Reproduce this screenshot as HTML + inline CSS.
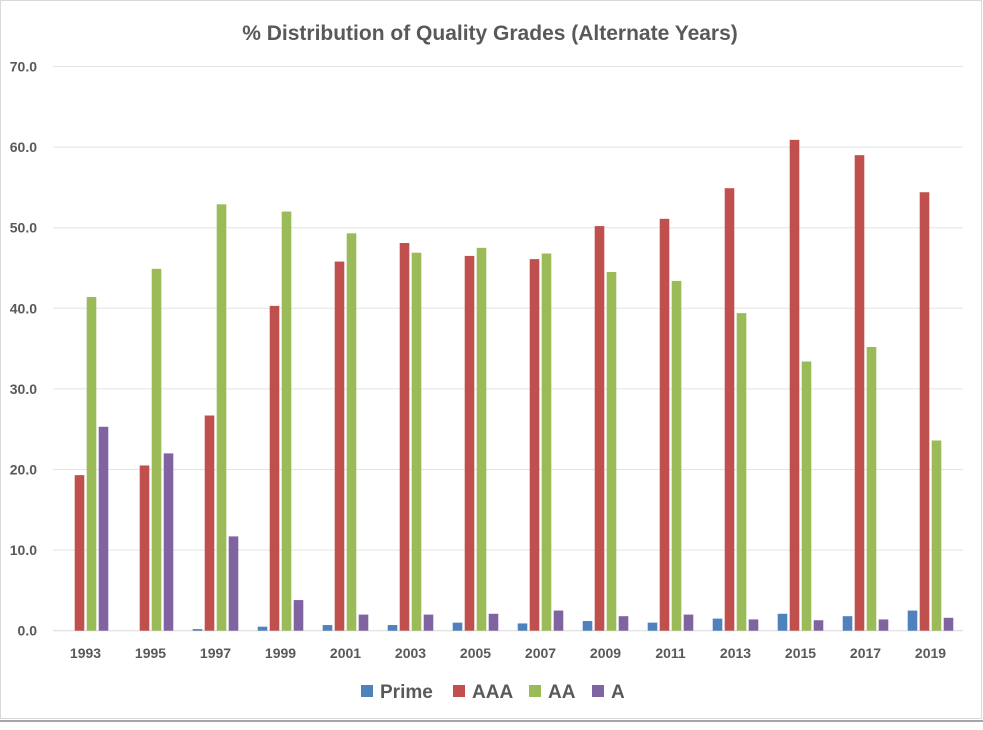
<!DOCTYPE html>
<html><head><meta charset="utf-8"><style>
body{margin:0;background:#fff;}
svg text{font-family:"Liberation Sans",sans-serif;fill:#595959;font-weight:bold;}
</style></head><body>
<svg width="983" height="725" xmlns="http://www.w3.org/2000/svg">
<rect x="0.5" y="0.5" width="981" height="718" fill="#fff" stroke="#d9d9d9"/>
<line x1="0" y1="721" x2="983" y2="721" stroke="#a6a6a6" stroke-width="2"/>
<text x="490" y="40" text-anchor="middle" font-size="21">% Distribution of Quality Grades (Alternate Years)</text>
<g id="grid"></g><g id="bars"></g><g id="labels"></g>
<g id="legend"></g>
</svg>
<script>
const categories=["1993","1995","1997","1999","2001","2003","2005","2007","2009","2011","2013","2015","2017","2019"];
const prime=[0,0,0.2,0.5,0.7,0.7,1.0,0.9,1.2,1.0,1.5,2.1,1.8,2.5];
const aaa=[19.3,20.5,26.7,40.3,45.8,48.1,46.5,46.1,50.2,51.1,54.9,60.9,59.0,54.4];
const aa=[41.4,44.9,52.9,52.0,49.3,46.9,47.5,46.8,44.5,43.4,39.4,33.4,35.2,23.6];
const a=[25.3,22.0,11.7,3.8,2.0,2.0,2.1,2.5,1.8,2.0,1.4,1.3,1.4,1.6];
const yTicks=[0,10,20,30,40,50,60,70];
const seriesNames=["Prime","AAA","AA","A"];
const colors=["#4f81bd","#c0504d","#9bbb59","#8064a2"];
const NS="http://www.w3.org/2000/svg";
const left=53,right=963,y0=630.7,pxPer=8.06;
const gw=(right-left)/categories.length;
const Y=v=>y0-v*pxPer;
const X=i=>left+gw*(i+0.5);
function mk(t,at,p){const e=document.createElementNS(NS,t);for(const k in at)e.setAttribute(k,at[k]);p.appendChild(e);return e;}
const grid=document.getElementById('grid'),bars=document.getElementById('bars'),labels=document.getElementById('labels');
yTicks.forEach(t=>{
 const l=mk('line',{x1:left,x2:right,y1:Y(t),y2:Y(t),stroke:t===0?'#d9d9d9':'#e3e3e3','stroke-width':1},grid);
 
 
 const tx=mk('text',{x:37,y:Y(t)+5,'text-anchor':'end','font-size':14},labels);
 tx.textContent=t.toFixed(1);
 
 
});
const series=[prime,aaa,aa,a];
const bw=9.6,step=12;
categories.forEach((c,i)=>{
 series.forEach((s,j)=>{
  const x=X(i)-2*step+j*step+1.2;
  const r=mk('rect',{x:x,y:Y(s[i]),width:bw,height:Math.max(0,s[i]*pxPer),fill:colors[j]},bars);
  
  
 });
 const tx=mk('text',{x:X(i),y:658,'text-anchor':'middle','font-size':14},labels);
 tx.textContent=c;
 
 
});
const lg=document.getElementById('legend');
const lx=[361,453,529,592];
seriesNames.forEach((n,j)=>{
 const r=mk('rect',{x:lx[j],y:685,width:12,height:12,fill:colors[j]},lg);
 
 
 const t=mk('text',{x:lx[j]+19,y:698,'font-size':19},lg);
 t.textContent=n;
 
 
});
</script>
</body></html>
